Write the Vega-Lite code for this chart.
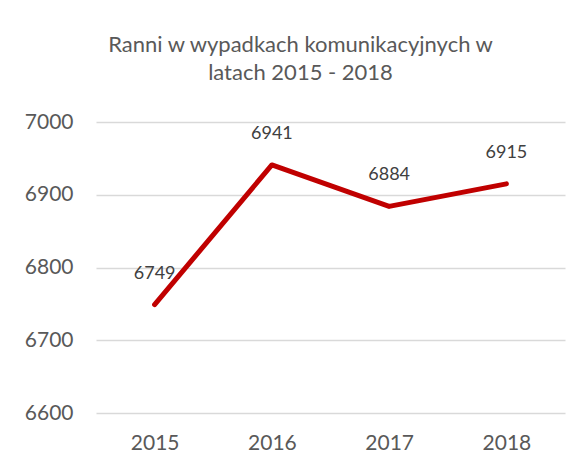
{
  "$schema": "https://vega.github.io/schema/vega-lite/v6.json",
  "width": 469,
  "height": 291,
  "autosize": "none",
  "padding": {"left": 96, "top": 122, "right": 22, "bottom": 57},
  "background": "white",
  "config": {"view": {"stroke": null}, "font": "Lato"},
  "title": {
    "text": ["Ranni w wypadkach komunikacyjnych w", "latach 2015 - 2018"],
    "fontSize": 22,
    "fontWeight": "normal",
    "color": "#595959",
    "font": "Lato",
    "lineHeight": 28,
    "anchor": "middle",
    "dx": -30,
    "offset": 26
  },
  "data": {
    "values": [
      {"rok": "2015", "ranni": 6749},
      {"rok": "2016", "ranni": 6941},
      {"rok": "2017", "ranni": 6884},
      {"rok": "2018", "ranni": 6915}
    ]
  },
  "encoding": {
    "x": {
      "field": "rok",
      "type": "ordinal",
      "scale": {"type": "point", "padding": 0.5},
      "axis": {
        "title": null,
        "labelAngle": 0,
        "labelFontSize": 21,
        "labelColor": "#595959",
        "labelPadding": 19,
        "domain": false,
        "ticks": false,
        "grid": false
      }
    },
    "y": {
      "field": "ranni",
      "type": "quantitative",
      "scale": {"domain": [6600, 7000], "nice": false, "zero": false},
      "axis": {
        "title": null,
        "values": [6600, 6700, 6800, 6900, 7000],
        "format": "d",
        "labelFontSize": 21,
        "labelColor": "#595959",
        "labelPadding": 23,
        "domain": false,
        "ticks": false,
        "gridColor": "#D9D9D9",
        "gridWidth": 1.3
      }
    }
  },
  "layer": [
    {
      "mark": {"type": "line", "color": "#C00000", "strokeWidth": 5, "strokeCap": "round", "strokeJoin": "round"}
    },
    {
      "mark": {"type": "text", "fontSize": 18, "color": "#404040", "dy": -31, "align": "center", "baseline": "middle"},
      "encoding": {"text": {"field": "ranni", "type": "quantitative", "format": "d"}}
    }
  ]
}
